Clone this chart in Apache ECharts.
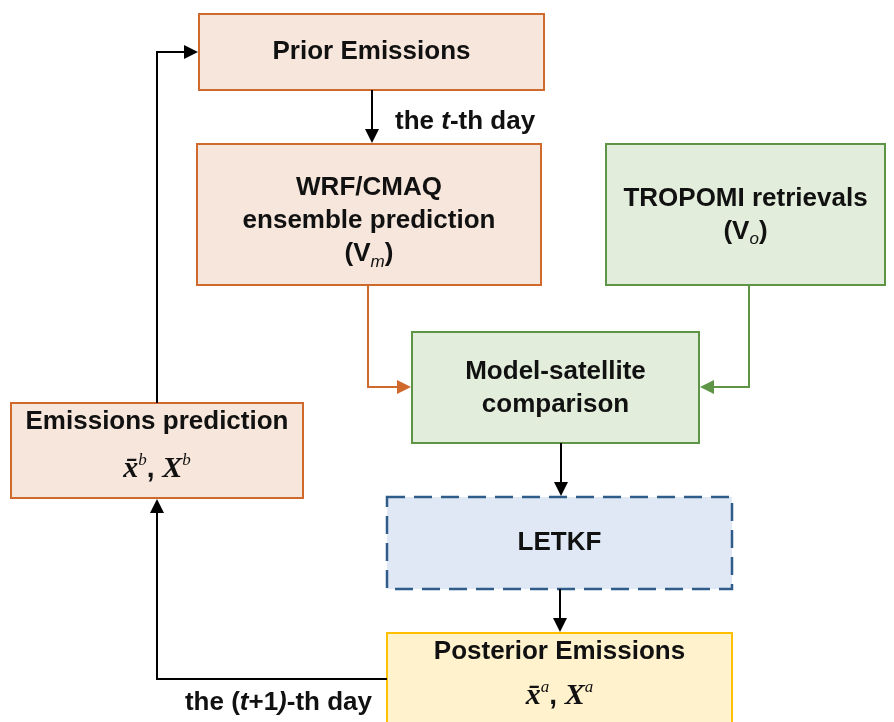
<!DOCTYPE html>
<html>
<head>
<meta charset="utf-8">
<script src="https://cdn.jsdelivr.net/npm/echarts@6/dist/echarts.min.js"></script>
<style>
  html, body { margin: 0; padding: 0; background: #fff; }
  #chart { width: 894px; height: 722px; }
</style>
</head>
<body>
<div id="chart"></div>
<script>
// boxes of the flow diagram (text uses rich markup)
var nodeNames = ['prior', 'wrf', 'tropomi', 'model', 'letkf', 'posterior', 'emisPred'];
var nodeTexts = [
  '{b|Prior Emissions}',
  '{b|WRF/CMAQ}\n{b|ensemble prediction}\n{b|(V}{sub|m}{b|)}',
  '{b|TROPOMI retrievals}\n{b|(V}{sub|o}{b|)}',
  '{b|Model-satellite}\n{b|comparison}',
  '{b|LETKF}',
  '{b|Posterior Emissions}',
  '{b|Emissions prediction}'
];
var nodeMath = ['', '', '', '', '', 'a', 'b'];   // superscript of x̄ , X
// links: from, to
var links = [
  ['prior', 'wrf'],
  ['wrf', 'model'],
  ['tropomi', 'model'],
  ['model', 'letkf'],
  ['letkf', 'posterior'],
  ['posterior', 'emisPred'],
  ['emisPred', 'prior']
];
var linkLabels = ['{n|the }{i|t}{n|-th day}', '', '', '', '', '{n|the (}{i|t}{n|+1}{i|)}{n|-th day}', ''];

// layout
var box = {
  prior:     { x: 199, y: 14,  w: 345, h: 76,  ty: 52 },
  wrf:       { x: 197, y: 144, w: 344, h: 141, ty: 221 },
  tropomi:   { x: 606, y: 144, w: 279, h: 141, ty: 215 },
  model:     { x: 412, y: 332, w: 287, h: 111, ty: 388 },
  letkf:     { x: 387, y: 497, w: 345, h: 92,  ty: 543 },
  posterior: { x: 387, y: 633, w: 345, h: 110, ty: 652, my: 696 },
  emisPred:  { x: 11,  y: 403, w: 292, h: 95,  ty: 422, my: 469 }
};
var theme = {
  orange: { fill: '#f7e6db', stroke: '#d06a2c' },
  green:  { fill: '#e2eedb', stroke: '#5e9445' },
  blue:   { fill: '#dfe8f4', stroke: '#2f5c88', dash: [18, 9] },
  yellow: { fill: '#fff2cd', stroke: '#ffc000' }
};
var nodeTheme = {
  prior: 'orange', wrf: 'orange', emisPred: 'orange',
  tropomi: 'green', model: 'green', letkf: 'blue', posterior: 'yellow'
};
var route = {
  'prior-wrf':          { pts: [[372, 90], [372, 143]], color: '#000' },
  'wrf-model':          { pts: [[368, 285], [368, 387], [411, 387]], color: '#d06a2c' },
  'tropomi-model':      { pts: [[749, 285], [749, 387], [700, 387]], color: '#5e9445' },
  'model-letkf':        { pts: [[561, 443], [561, 496]], color: '#000' },
  'letkf-posterior':    { pts: [[560, 589], [560, 632]], color: '#000' },
  'posterior-emisPred': { pts: [[387, 679], [157, 679], [157, 499]], color: '#000' },
  'emisPred-prior':     { pts: [[157, 403], [157, 52], [198, 52]], color: '#000' }
};
var linkLabelPos = { 'prior-wrf': [395, 122, 'left'], 'posterior-emisPred': [372, 703, 'right'] };

var SANS = 'Liberation Sans, Arial, sans-serif';
var SERIF = 'Liberation Serif, Times New Roman, serif';
var rich = {
  b: { fontFamily: SANS, fontWeight: 'bold', fontSize: 26, lineHeight: 33, fill: '#111' },
  sub: { fontFamily: SANS, fontStyle: 'italic', fontSize: 17, lineHeight: 33, verticalAlign: 'bottom', fill: '#111' },
  n: { fontFamily: SANS, fontWeight: 'bold', fontSize: 26, fill: '#111' },
  i: { fontFamily: SANS, fontWeight: 'bold', fontStyle: 'italic', fontSize: 26, fill: '#111' },
  m: { fontFamily: SERIF, fontWeight: 'bold', fontStyle: 'italic', fontSize: 30, lineHeight: 34, fill: '#111' },
  c: { fontFamily: SANS, fontWeight: 'bold', fontSize: 28, lineHeight: 34, fill: '#111' },
  sup: { fontFamily: SERIF, fontStyle: 'italic', fontSize: 17, lineHeight: 21, verticalAlign: 'top', fill: '#111' }
};

var elements = [];

nodeNames.forEach(function (name, i) {
  var b = box[name], t = theme[nodeTheme[name]];
  elements.push({
    type: 'rect',
    shape: { x: b.x, y: b.y, width: b.w, height: b.h },
    style: { fill: t.fill, stroke: t.stroke, lineWidth: t.dash ? 2.5 : 2, lineDash: t.dash || null }
  });
  elements.push({
    type: 'text',
    style: { text: nodeTexts[i], x: b.x + b.w / 2, y: b.ty, align: 'center', verticalAlign: 'middle', rich: rich }
  });
  if (nodeMath[i]) {
    var s = nodeMath[i];
    elements.push({
      type: 'text',
      style: {
        text: '{m|x\u0304}{sup|' + s + '}{c|, }{m|X}{sup|' + s + '}',
        x: b.x + b.w / 2, y: b.my, align: 'center', verticalAlign: 'middle', rich: rich
      }
    });
  }
});

function arrowHead(p0, p1, color) {
  var dx = p1[0] - p0[0], dy = p1[1] - p0[1];
  var len = Math.sqrt(dx * dx + dy * dy);
  var ux = dx / len, uy = dy / len;
  var L = 14, W = 7;
  var bx = p1[0] - ux * L, by = p1[1] - uy * L;
  return {
    type: 'polygon',
    shape: { points: [p1, [bx - uy * W, by + ux * W], [bx + uy * W, by - ux * W]] },
    style: { fill: color }
  };
}

links.forEach(function (lk, i) {
  var key = lk[0] + '-' + lk[1];
  var r = route[key];
  var pts = r.pts;
  var last = pts[pts.length - 1], prev = pts[pts.length - 2];
  // stop the line at the base of the arrowhead
  var dx = last[0] - prev[0], dy = last[1] - prev[1];
  var len = Math.sqrt(dx * dx + dy * dy);
  var linePts = pts.slice(0, -1).concat([[last[0] - dx / len * 10, last[1] - dy / len * 10]]);
  elements.push({
    type: 'polyline',
    shape: { points: linePts },
    style: { stroke: r.color, lineWidth: 2, fill: null }
  });
  elements.push(arrowHead(prev, last, r.color));
  if (linkLabels[i]) {
    var lp = linkLabelPos[key];
    elements.push({
      type: 'text',
      style: { text: linkLabels[i], x: lp[0], y: lp[1], align: lp[2], verticalAlign: 'middle', rich: rich }
    });
  }
});

var chart = echarts.init(document.getElementById('chart'), null, { renderer: 'canvas' });
chart.setOption({
  backgroundColor: '#fff',
  animation: false,
  graphic: { elements: elements }
});
</script>
</body>
</html>
